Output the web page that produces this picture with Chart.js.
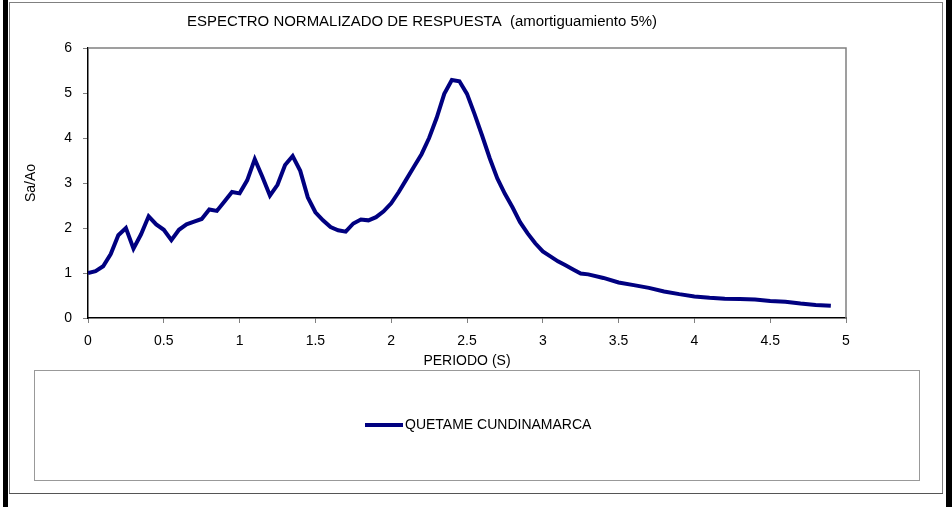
<!DOCTYPE html>
<html>
<head>
<meta charset="utf-8">
<script src="https://cdn.jsdelivr.net/npm/chart.js@4.4.0/dist/chart.umd.min.js"></script>
<style>
  html, body { margin: 0; padding: 0; background: #fff; }
  #wrap { width: 952px; height: 507px; }
</style>
</head>
<body>
<div id="wrap"><canvas id="espectroChart" width="952" height="507"></canvas></div>
<script>
// Periodo (s) y Sa/Ao
const periods = [
  0, 0.05, 0.1, 0.15, 0.2, 0.25, 0.3, 0.35, 0.4, 0.45,
  0.5, 0.55, 0.6, 0.65, 0.7, 0.75, 0.8, 0.85, 0.9, 0.95,
  1.0, 1.05, 1.1, 1.15, 1.2, 1.25, 1.3, 1.35, 1.4, 1.45,
  1.5, 1.55, 1.6, 1.65, 1.7, 1.75, 1.8, 1.85, 1.9, 1.95,
  2.0, 2.05, 2.1, 2.15, 2.2, 2.25, 2.3, 2.35, 2.4, 2.45,
  2.5, 2.55, 2.6, 2.65, 2.7, 2.75, 2.8, 2.85, 2.9, 2.95,
  3.0, 3.05, 3.1, 3.15, 3.2, 3.25, 3.3, 3.4, 3.5, 3.6,
  3.7, 3.8, 3.9, 4.0, 4.1, 4.2, 4.3, 4.4, 4.5, 4.6,
  4.7, 4.8, 4.9
];
const saAo = [
  1.00, 1.04, 1.15, 1.42, 1.84, 2.00, 1.54, 1.86, 2.26, 2.08,
  1.96, 1.73, 1.96, 2.08, 2.14, 2.20, 2.41, 2.38, 2.59, 2.80,
  2.77, 3.06, 3.53, 3.14, 2.72, 2.96, 3.40, 3.60, 3.27, 2.68,
  2.35, 2.17, 2.02, 1.95, 1.92, 2.10, 2.19, 2.17, 2.24, 2.37,
  2.55, 2.80, 3.08, 3.36, 3.64, 4.00, 4.45, 4.98, 5.29, 5.26,
  4.98, 4.53, 4.05, 3.55, 3.10, 2.76, 2.46, 2.13, 1.88, 1.66,
  1.48, 1.37, 1.26, 1.17, 1.08, 0.99, 0.97, 0.89, 0.79, 0.73,
  0.67, 0.59, 0.53, 0.48, 0.45, 0.43, 0.42, 0.41, 0.38, 0.36,
  0.32, 0.29, 0.27
];
const seriesName = 'QUETAME CUNDINAMARCA';
const chartTitle = 'ESPECTRO NORMALIZADO DE RESPUESTA  (amortiguamiento 5%)';
const xTitle = 'PERIODO (S)';
const yTitle = 'Sa/Ao';

const FONT = '"Liberation Sans", Arial, sans-serif';
const navy = '#000080';

// marcos, titulos y leyenda estilo Excel
const decorations = {
  id: 'decorations',
  beforeDraw(chart) {
    const ctx = chart.ctx;
    ctx.save();
    ctx.fillStyle = '#fff';
    ctx.fillRect(0, 0, 952, 507);
    // bandas negras laterales
    ctx.fillStyle = '#000';
    ctx.fillRect(3, 0, 5, 507);
    ctx.fillRect(946, 0, 6, 507);
    // borde del area del grafico
    ctx.strokeStyle = '#808080';
    ctx.lineWidth = 1;
    ctx.strokeRect(9.5, 2.5, 933, 491);
    ctx.strokeStyle = '#555';
    ctx.beginPath();
    ctx.moveTo(9, 493.5); ctx.lineTo(943, 493.5);
    ctx.stroke();
    ctx.restore();
  },
  afterDraw(chart) {
    const ctx = chart.ctx;
    const a = chart.chartArea;
    ctx.save();
    // borde superior y derecho del area de trazado
    ctx.strokeStyle = '#808080';
    ctx.lineWidth = 1.5;
    ctx.beginPath();
    ctx.moveTo(a.left, a.top);
    ctx.lineTo(a.right, a.top);
    ctx.lineTo(a.right, a.bottom);
    ctx.stroke();

    ctx.fillStyle = '#000';
    ctx.textBaseline = 'middle';
    // titulo
    ctx.font = '14px ' + FONT;
    ctx.textAlign = 'left';
    const tw = ctx.measureText(chartTitle).width;
    ctx.save();
    ctx.translate(187, 22);
    ctx.scale(470 / tw, 1);
    ctx.fillText(chartTitle, 0, 0);
    ctx.restore();

    // titulos de ejes
    ctx.textAlign = 'center';
    ctx.fillText(xTitle, (a.left + a.right) / 2, 361);
    ctx.save();
    ctx.translate(31, (a.top + a.bottom) / 2);
    ctx.rotate(-Math.PI / 2);
    ctx.fillText(yTitle, 0, 0);
    ctx.restore();

    // leyenda
    ctx.strokeStyle = '#999';
    ctx.lineWidth = 1;
    ctx.strokeRect(34.5, 370.5, 885, 110);
    ctx.strokeStyle = navy;
    ctx.lineWidth = 4;
    ctx.beginPath();
    ctx.moveTo(365, 425);
    ctx.lineTo(403, 425);
    ctx.stroke();
    ctx.textAlign = 'left';
    ctx.fillText(seriesName, 405, 425);
    ctx.restore();
  }
};

const ctx = document.getElementById('espectroChart').getContext('2d');
new Chart(ctx, {
  type: 'line',
  data: {
    datasets: [{
      label: seriesName,
      data: periods.map((t, i) => ({ x: t, y: saAo[i] })),
      borderColor: navy,
      borderWidth: 4,
      pointRadius: 0,
      tension: 0,
      fill: false,
    }],
  },
  options: {
    responsive: false,
    animation: false,
    layout: { padding: { left: 0, top: 48, right: 106, bottom: 0 } },
    plugins: {
      legend: { display: false },
      title: { display: false },
      tooltip: { enabled: false },
    },
    scales: {
      x: {
        type: 'linear',
        min: 0,
        max: 5,
        afterFit: (scale) => { scale.height = 189; },
        ticks: {
          stepSize: 0.5, color: '#000', padding: 10, maxRotation: 0,
          font: { family: FONT, size: 14 },
          callback: (v) => String(v),
        },
        grid: { drawOnChartArea: false, tickLength: 5, color: '#808080' },
        border: { color: '#000', width: 1.5 },
      },
      y: {
        min: 0,
        max: 6,
        afterFit: (scale) => { scale.width = 88; },
        ticks: {
          stepSize: 1, color: '#000', padding: 11,
          font: { family: FONT, size: 14 },
          callback: (v) => String(v),
        },
        grid: { drawOnChartArea: false, tickLength: 5, color: '#808080' },
        border: { color: '#000', width: 1.5 },
      },
    },
  },
  plugins: [decorations],
});
</script>
</body>
</html>
